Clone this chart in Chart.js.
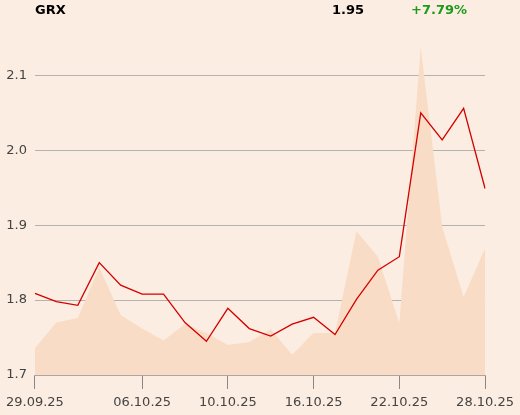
<!DOCTYPE html>
<html lang="de">
<head>
  <meta charset="UTF-8" />
  <title>GRX</title>
  <script src="https://cdn.jsdelivr.net/npm/chart.js"></script>
  <style>
    html, body {
      margin: 0;
      padding: 0;
      background-color: #fbede1;
      font-family: "DejaVu Sans", sans-serif;
    }
    #wrap {
      position: relative;
      width: 520px;
      height: 415px;
    }
    .head {
      position: absolute;
      top: 2px;
      font-size: 13px;
      font-weight: bold;
      color: #000;
    }
  </style>
</head>
<body>
  <div id="wrap">
    <div class="head" style="left:35px">GRX</div>
    <div class="head" style="left:332px">1.95</div>
    <div class="head" style="left:411px; color:#1b9b1b">+7.79%</div>
    <canvas id="chart" width="520" height="415"></canvas>
  </div>

  <script>
    // Handelstage
    const dates = ['29.09.25', '30.09.25', '01.10.25', '02.10.25', '03.10.25',
      '06.10.25', '07.10.25', '08.10.25', '09.10.25', '10.10.25',
      '13.10.25', '14.10.25', '15.10.25', '16.10.25',
      '17.10.25', '20.10.25', '21.10.25', '22.10.25',
      '23.10.25', '24.10.25', '27.10.25', '28.10.25'];
    const shownDates = ['29.09.25', '06.10.25', '10.10.25', '16.10.25', '22.10.25', '28.10.25'];

    // Kurs
    const prices = [1.809, 1.798, 1.793, 1.850, 1.820, 1.808, 1.808, 1.770, 1.745, 1.789,
      1.762, 1.752, 1.768, 1.777, 1.754, 1.801, 1.840, 1.858, 2.050, 2.014, 2.056, 1.949];

    // Volumen (Tsd.)
    const volumes = [36, 70, 76, 144, 80, 62, 46, 68, 56, 40,
      44, 61, 27, 56, 56, 192, 158, 69, 438, 198, 104, 169];

    const yTicks = [1.7, 1.8, 1.9, 2.0, 2.1];

    new Chart(document.getElementById('chart'), {
      type: 'line',
      data: {
        labels: dates,
        datasets: [
          {
            label: 'Kurs',
            data: prices,
            yAxisID: 'y',
            borderColor: '#d40000',
            borderWidth: 1.3,
            pointRadius: 0,
            tension: 0,
            fill: false,
            order: 1
          },
          {
            label: 'Volumen',
            data: volumes,
            yAxisID: 'vol',
            borderWidth: 0,
            backgroundColor: '#f8dcc6',
            pointRadius: 0,
            tension: 0,
            fill: 'origin',
            order: 2
          }
        ]
      },
      options: {
        responsive: false,
        animation: false,
        layout: { padding: { top: 38, right: 32, left: 0, bottom: 0 } },
        plugins: {
          legend: { display: false },
          tooltip: { enabled: false }
        },
        scales: {
          x: {
            afterFit: s => { s.height = 40; },
            border: { color: '#a9a6a3', width: 1 },
            grid: {
              drawOnChartArea: false,
              tickLength: 14,
              color: ctx => shownDates.includes(dates[ctx.index]) ? '#8a8886' : 'transparent'
            },
            ticks: {
              autoSkip: false,
              maxRotation: 0,
              padding: 6,
              color: '#444',
              font: { family: 'DejaVu Sans', size: 13 },
              callback: (v, i) => shownDates.includes(dates[i]) ? dates[i] : ''
            }
          },
          y: {
            min: 1.7,
            max: 2.15,
            afterFit: s => { s.width = 34; },
            afterBuildTicks: s => { s.ticks = yTicks.map(v => ({ value: v })); },
            border: { display: false },
            grid: { color: '#b5b1ad', drawTicks: false },
            ticks: {
              padding: 8,
              color: '#444',
              font: { family: 'DejaVu Sans', size: 13 },
              callback: v => v.toFixed(1)
            }
          },
          vol: {
            display: false,
            min: 0,
            max: 450
          }
        }
      }
    });
  </script>
</body>
</html>
